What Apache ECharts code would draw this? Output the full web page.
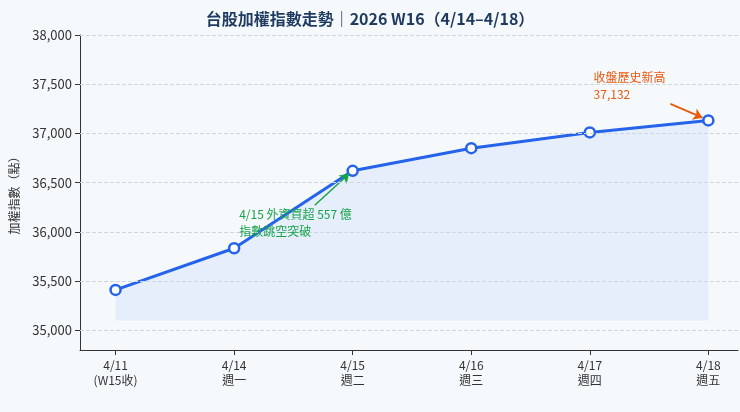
<!DOCTYPE html><html><head><meta charset="utf-8"><script src="https://cdn.jsdelivr.net/npm/echarts@6/dist/echarts.min.js"></script>
<style>html,body{margin:0;background:#f6f9fc}#c{width:740px;height:412px}</style></head><body><div id="c"></div><script>
const categories=['4/11\n(W15收)','4/14\n週一','4/15\n週二','4/16\n週三','4/17\n週四','4/18\n週五'];
const values=[35410,35834,36620,36850,37010,37132];
const yTicks=[35000,35500,36000,36500,37000,37500,38000];
const F='"Noto Sans CJK TC","Noto Sans",sans-serif';
const c=echarts.init(document.getElementById('c'));
c.setOption({backgroundColor:'#f6f9fc',
title:{text:'台股加權指數走勢｜2026 W16（4/14–4/18）',left:'center',top:6,textStyle:{fontFamily:F,fontSize:16,fontWeight:'bold',color:'#1e3a5f'}},
grid:{left:80,right:2,top:35,bottom:62},
xAxis:{type:'value',min:-0.3,max:5.25,interval:1,splitLine:{show:false},axisTick:{show:true,customValues:[0,1,2,3,4,5]},
 axisLine:{onZero:false,lineStyle:{color:'#333'}},axisLabel:{customValues:[0,1,2,3,4,5],formatter:v=>categories[Math.round(v)]??'',fontFamily:F,fontSize:12,color:'#333',lineHeight:15}},
yAxis:{type:'value',min:34800,max:38000,name:'加權指數（點）',nameLocation:'middle',nameGap:60,nameTextStyle:{fontFamily:F,fontSize:12,color:'#333'},
 axisLine:{show:true,onZero:false,lineStyle:{color:'#333'}},axisTick:{show:true,customValues:yTicks},axisLabel:{customValues:yTicks,formatter:v=>v.toLocaleString('en-US'),fontFamily:F,fontSize:13,color:'#333'},
 splitLine:{show:false}},
series:[{type:'line',data:values.map((v,i)=>[i,v]),lineStyle:{width:3,color:'#2563eb'},itemStyle:{color:'#fff',borderColor:'#2563eb',borderWidth:2.5},
 symbol:'circle',symbolSize:10,areaStyle:{origin:35100,color:'rgba(37,99,235,0.10)'},z:3,
 markLine:{silent:true,symbol:['none','arrow'],symbolSize:9,label:{show:false},data:[
  [{coord:[1.68,36270],lineStyle:{color:'#16a34a',width:1.5,type:'solid'}},{coord:[1.97,36590]}],
  [{coord:[4.68,37300],lineStyle:{color:'#ea580c',width:1.8,type:'solid'}},{coord:[4.95,37160]}]]},
 markPoint:{symbol:'circle',symbolSize:0,data:[
  {coord:[1.0,36090],label:{show:true,position:'right',formatter:'4/15 外資買超 557 億\n指數跳空突破',color:'#16a34a',fontFamily:F,fontSize:12,lineHeight:17}},
  {coord:[3.99,37480],label:{show:true,position:'right',formatter:'收盤歷史新高\n37,132',color:'#ea580c',fontFamily:F,fontSize:12,lineHeight:17}}]}},
 {type:'line',data:yTicks.map(v=>[-0.3,v]),symbol:'none',lineStyle:{width:0},silent:true,z:1,
  markLine:{silent:true,symbol:'none',label:{show:false},lineStyle:{type:'dashed',color:'#cfd6e0',width:1},data:yTicks.map(v=>({yAxis:v}))}}]});
</script></body></html>
